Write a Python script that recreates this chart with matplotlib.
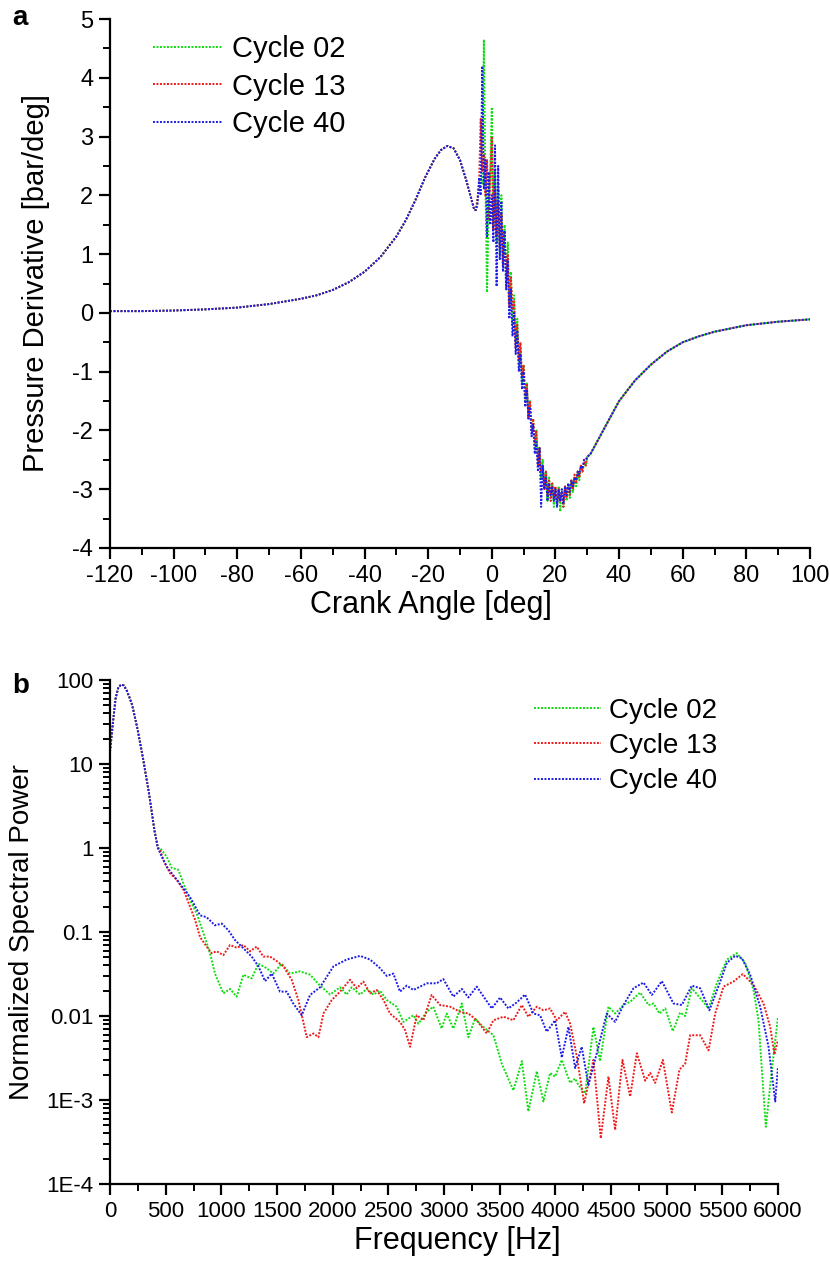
import numpy as np
import matplotlib
matplotlib.use("Agg")
import matplotlib.pyplot as plt
from matplotlib.ticker import MultipleLocator, LogLocator, NullFormatter

plt.rcParams['font.family'] = ['Liberation Sans', 'DejaVu Sans']
plt.rcParams['axes.unicode_minus'] = False

labels = ['Cycle 02', 'Cycle 13', 'Cycle 40']
colors = ['#10dd10', '#ee1c1c', '#1c1ce6']

# ---- panel a : pressure derivative vs crank angle ----
# smooth part before combustion (same for all cycles)
ca_pre = [-120, -110, -100, -90, -80, -70, -60, -55, -50, -45, -40, -35, -30, -27,
          -24, -21, -18, -16, -14, -12, -10, -8, -7, -6, -5.5]
dp_pre = [0.03, 0.03, 0.04, 0.06, 0.09, 0.15, 0.24, 0.3, 0.39, 0.52, 0.7, 0.95, 1.3, 1.58,
          1.92, 2.3, 2.62, 2.77, 2.84, 2.8, 2.6, 2.25, 2.05, 1.85, 1.75]

# noisy combustion region, -5 .. 30 deg every 0.5 deg
ca_mid = np.arange(-5, 30.25, 0.5)
dp_mid_02 = [1.75, 1.9, 2.1, 2.3, 2.2, 4.65, 2.2, 0.35,
             1.8, 2.4, 3.5, 1.5, 2.4, 1.2, 2.2, 1.0,
             2.0, 0.9, 1.5, 0.5, 1.2, 0.2, 0.7, -0.2,
             0.3, -0.5, -0.1, -0.9, -0.6, -1.2, -0.9, -1.5,
             -1.2, -1.7, -1.5, -2.0, -1.8, -2.3, -2.0, -2.5,
             -2.3, -2.8, -2.5, -3.0, -2.7, -3.2, -2.8, -3.1,
             -2.9, -3.3, -3.0, -3.25, -2.95, -3.38, -3.0, -3.3,
             -3.0, -3.2, -2.9, -3.15, -2.85, -3.05, -2.8, -2.95,
             -2.7, -2.85, -2.6, -2.7, -2.55, -2.6, -2.45]
dp_mid_13 = [1.75, 1.95, 2.2, 3.3, 2.4, 2.7, 2.0, 2.6,
             1.6, 2.3, 3.0, 1.4, 2.1, 1.3, 1.9, 1.1,
             1.7, 0.8, 1.4, 0.6, 1.0, 0.1, 0.6, 0.05,
             0.2, -0.6, -0.2, -0.8, -0.5, -1.1, -0.9, -1.4,
             -1.2, -1.8, -1.5, -2.0, -1.8, -2.2, -2.0, -2.6,
             -2.3, -2.7, -2.6, -3.0, -2.7, -3.1, -2.85, -3.2,
             -2.9, -3.15, -2.95, -3.25, -3.0, -3.2, -3.05, -3.3,
             -2.95, -3.15, -2.9, -3.1, -2.85, -3.0, -2.75, -2.9,
             -2.7, -2.8, -2.6, -2.7, -2.5, -2.6, -2.45]
dp_mid_40 = [1.75, 1.85, 2.3, 2.0, 4.2, 2.1, 2.6, 1.3,
             2.4, 1.5, 2.0, 1.2, 2.85, 0.45, 2.5, 0.9,
             1.9, 0.7, 1.4, 0.4, 0.9, -0.1, 0.4, -0.4,
             0.0, -0.7, -0.3, -1.0, -0.7, -1.3, -1.0, -1.6,
             -1.3, -1.8, -1.6, -2.1, -1.9, -2.4, -2.2, -2.7,
             -2.3, -3.3, -2.6, -3.0, -2.8, -3.2, -2.9, -3.1,
             -2.95, -3.2, -3.0, -3.3, -3.0, -3.2, -3.0, -3.25,
             -2.95, -3.1, -2.9, -3.05, -2.85, -2.95, -2.8, -2.85,
             -2.7, -2.75, -2.6, -2.65, -2.5, -2.5, -2.45]

# smooth expansion part
ca_post = [31, 32, 34, 36, 38, 40, 45, 50, 55, 60, 65, 70, 80, 90, 100]
dp_post = [-2.4, -2.3, -2.1, -1.9, -1.7, -1.5, -1.15, -0.88, -0.66, -0.5, -0.4, -0.32,
           -0.21, -0.15, -0.11]

# ---- panel b : normalized spectral power ----
f_low = [0, 25, 50, 75, 100, 125, 150, 175, 200, 250, 300, 350, 400, 430]
p_low = [14, 30, 60, 82, 88, 86, 75, 62, 50, 25, 11, 4.5, 1.6, 1.0]

f_02 = [450, 509, 554, 614, 659, 719, 779, 838, 898, 943, 1018, 1078, 1138, 1198, 1273,
        1333, 1408, 1467, 1542, 1617, 1707, 1797, 1887, 1977, 2066, 2126, 2171, 2246,
        2306, 2366, 2426, 2486, 2575, 2635, 2725, 2770, 2845, 2904, 2979, 3024, 3084,
        3160, 3219, 3279, 3354, 3444, 3519, 3623, 3699, 3758, 3833, 3893, 3953, 3998,
        4058, 4133, 4178, 4208, 4268, 4342, 4402, 4477, 4537, 4612, 4672, 4762, 4837,
        4882, 4935, 4987, 5055, 5121, 5166, 5226, 5316, 5376, 5451, 5541, 5630, 5705,
        5780, 5825, 5855, 5891, 5945, 6000]
p_02 = [1.0, 0.79, 0.58, 0.55, 0.38, 0.24, 0.166, 0.098, 0.056, 0.032, 0.0186, 0.021,
        0.017, 0.031, 0.028, 0.042, 0.037, 0.032, 0.042, 0.032, 0.034, 0.031, 0.023,
        0.018, 0.022, 0.018, 0.022, 0.018, 0.021, 0.018, 0.020, 0.0155, 0.0129, 0.0085,
        0.0102, 0.0081, 0.0112, 0.0129, 0.0071, 0.0107, 0.0071, 0.0141, 0.0056, 0.0093,
        0.0074, 0.0059, 0.0027, 0.0013, 0.0029, 0.00073, 0.0022, 0.00096, 0.0021, 0.0019,
        0.003, 0.0016, 0.0018, 0.0015, 0.0012, 0.0074, 0.0029, 0.0129, 0.0107, 0.0135,
        0.0148, 0.019, 0.0135, 0.0141, 0.0107, 0.0123, 0.0066, 0.011, 0.010, 0.0214,
        0.0155, 0.0123, 0.0245, 0.047, 0.056, 0.043, 0.0204, 0.0089, 0.0023, 0.00048,
        0.0023, 0.0098]

f_13 = [450, 479, 539, 599, 659, 719, 764, 809, 868, 913, 958, 1018, 1078, 1138, 1198,
        1258, 1318, 1377, 1438, 1498, 1557, 1632, 1692, 1767, 1827, 1872, 1917, 1992,
        2066, 2156, 2216, 2276, 2336, 2396, 2456, 2515, 2605, 2650, 2695, 2755, 2815,
        2889, 2965, 3055, 3145, 3219, 3294, 3384, 3444, 3534, 3623, 3699, 3758, 3833,
        3893, 3953, 4013, 4088, 4133, 4193, 4259, 4342, 4408, 4477, 4537, 4603, 4672,
        4732, 4807, 4852, 4897, 4966, 5046, 5115, 5166, 5211, 5301, 5376, 5436, 5511,
        5600, 5684, 5780, 5870, 5930, 5968, 6000]
p_13 = [0.95, 0.72, 0.5, 0.42, 0.32, 0.2, 0.14, 0.087, 0.067, 0.056, 0.059, 0.053, 0.07,
        0.065, 0.07, 0.059, 0.067, 0.051, 0.051, 0.045, 0.039, 0.027, 0.0155, 0.0056,
        0.0062, 0.0056, 0.0107, 0.0155, 0.0195, 0.027, 0.0214, 0.0257, 0.0186, 0.0204,
        0.0155, 0.0107, 0.0085, 0.0068, 0.0043, 0.0102, 0.0089, 0.0178, 0.0135, 0.0129,
        0.0112, 0.0107, 0.0089, 0.0062, 0.0089, 0.0098, 0.0089, 0.0135, 0.0098, 0.0129,
        0.0117, 0.0123, 0.0089, 0.0112, 0.0081, 0.0033, 0.00091, 0.003, 0.00035, 0.0019,
        0.00044, 0.003, 0.0011, 0.0036, 0.0017, 0.0021, 0.0016, 0.003, 0.00071, 0.0023,
        0.0027, 0.0059, 0.0059, 0.0039, 0.0107, 0.0224, 0.0257, 0.0316, 0.0234, 0.0141,
        0.0074, 0.0035, 0.0052]

f_40 = [450, 509, 599, 659, 719, 809, 868, 943, 1003, 1063, 1123, 1198, 1273, 1333, 1393,
        1453, 1527, 1587, 1647, 1722, 1797, 1887, 2007, 2126, 2246, 2336, 2426, 2486,
        2545, 2605, 2665, 2725, 2845, 2934, 2994, 3084, 3160, 3219, 3294, 3429, 3504,
        3578, 3653, 3728, 3803, 3863, 3923, 3998, 4058, 4118, 4178, 4237, 4297, 4372,
        4462, 4537, 4612, 4702, 4792, 4867, 4957, 5061, 5136, 5226, 5301, 5384, 5481,
        5541, 5615, 5675, 5750, 5840, 5915, 5975, 6000]
p_40 = [0.87, 0.60, 0.42, 0.33, 0.26, 0.158, 0.15, 0.12, 0.126, 0.105, 0.08, 0.064, 0.051,
        0.039, 0.026, 0.032, 0.0195, 0.0195, 0.014, 0.0102, 0.0178, 0.022, 0.039, 0.047,
        0.052, 0.047, 0.037, 0.030, 0.032, 0.0195, 0.023, 0.0204, 0.0245, 0.0245, 0.0275,
        0.017, 0.021, 0.0166, 0.0224, 0.0123, 0.0166, 0.0123, 0.0145, 0.018, 0.0107,
        0.0102, 0.0065, 0.0089, 0.0032, 0.0074, 0.0024, 0.0043, 0.0015, 0.0036, 0.0107,
        0.0085, 0.0135, 0.0214, 0.025, 0.0178, 0.026, 0.0141, 0.0135, 0.023, 0.0214,
        0.0117, 0.0257, 0.043, 0.052, 0.049, 0.031, 0.0129, 0.0043, 0.00096, 0.0025]

W, H = 830, 1269
fig = plt.figure(figsize=(W / 100, H / 100), dpi=100)

def px_axes(l, t, r, b):
    return fig.add_axes([l / W, 1 - b / H, (r - l) / W, (b - t) / H])

def style_axes(ax, tick_fs):
    for s in ['top', 'right']:
        ax.spines[s].set_visible(False)
    for s in ['left', 'bottom']:
        ax.spines[s].set_linewidth(1.6)
    ax.tick_params(which='major', direction='out', length=8, width=1.6, labelsize=tick_fs, pad=4)
    ax.tick_params(which='minor', direction='out', length=5, width=1.4)

ls = (0, (1, 0.8))

# panel a
ax1 = px_axes(110, 19, 810, 548)
mids = [dp_mid_02, dp_mid_13, dp_mid_40]
for mid, c, lab in zip(mids, colors, labels):
    x = np.concatenate([ca_pre, ca_mid, ca_post])
    y = np.concatenate([dp_pre, mid, dp_post])
    ax1.plot(x, y, color=c, lw=1.4, ls=ls, label=lab)
ax1.set_xlim(-120, 100)
ax1.set_ylim(-4, 5)
ax1.xaxis.set_major_locator(MultipleLocator(20))
ax1.xaxis.set_minor_locator(MultipleLocator(10))
ax1.yaxis.set_major_locator(MultipleLocator(1))
ax1.yaxis.set_minor_locator(MultipleLocator(0.5))
style_axes(ax1, 17)
ax1.set_xlabel('Crank Angle [deg]', fontsize=22)
ax1.xaxis.set_label_coords(0.459, -0.079)
ax1.set_ylabel('Pressure Derivative [bar/deg]', fontsize=21)
ax1.yaxis.set_label_coords(-0.085, 0.5)
ax1.legend(loc='upper left', bbox_to_anchor=(153 / W, 1 - 35 / H),
           bbox_transform=fig.transFigure, frameon=False, fontsize=21,
           handlelength=2.4, handletextpad=0.3, labelspacing=0.33,
           borderpad=0, borderaxespad=0)
fig.text(12 / W, 1 - 18 / H, 'a', fontsize=20, fontweight='bold', va='center')

# panel b
ax2 = px_axes(110, 680, 778, 1184)
for f, p, c, lab in zip([f_02, f_13, f_40], [p_02, p_13, p_40], colors, labels):
    ax2.plot(np.concatenate([f_low, f]), np.concatenate([p_low, p]), color=c, lw=1.4, ls=ls, label=lab)
ax2.set_yscale('log')
ax2.set_xlim(0, 6000)
ax2.set_ylim(1e-4, 100)
ax2.xaxis.set_major_locator(MultipleLocator(500))
ax2.xaxis.set_minor_locator(MultipleLocator(250))
ax2.set_yticks([1e-4, 1e-3, 1e-2, 1e-1, 1, 10, 100],
               ['1E-4', '1E-3', '0.01', '0.1', '1', '10', '100'])
ax2.yaxis.set_minor_locator(LogLocator(base=10, subs=np.arange(2, 10)))
ax2.yaxis.set_minor_formatter(NullFormatter())
style_axes(ax2, 16)
ax2.set_xlabel('Frequency [Hz]', fontsize=22)
ax2.xaxis.set_label_coords((457 - 110) / 668, -0.083)
ax2.set_ylabel('Normalized Spectral Power', fontsize=20)
ax2.yaxis.set_label_coords(-0.112, 0.5)
ax2.legend(loc='upper left', bbox_to_anchor=(534 / W, 1 - 698 / H),
           bbox_transform=fig.transFigure, frameon=False, fontsize=20,
           handlelength=2.4, handletextpad=0.3, labelspacing=0.33,
           borderpad=0, borderaxespad=0)
fig.text(12 / W, 1 - 686 / H, 'b', fontsize=20, fontweight='bold', va='center')

fig.savefig('out.png', dpi=100)
